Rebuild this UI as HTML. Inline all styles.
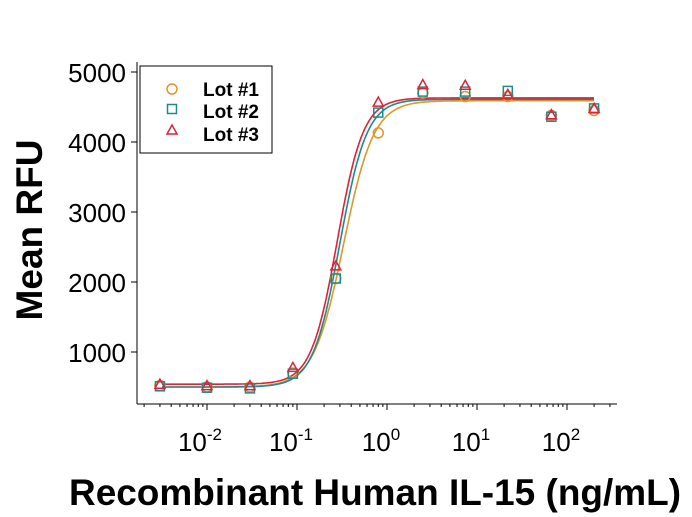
<!DOCTYPE html>
<html><head><style>body{margin:0;background:#fff}svg{display:block}text{font-family:"Liberation Sans",Arial,sans-serif}</style></head>
<body>
<svg id="s" width="692" height="517" viewBox="0 0 692 517" xmlns="http://www.w3.org/2000/svg">
<rect width="692" height="517" fill="#fff"/>
<g stroke="#000" stroke-width="1" fill="none">
<line x1="137" y1="62" x2="137" y2="404"/>
<line x1="137" y1="404" x2="617" y2="404"/>
<line x1="131" y1="72" x2="137" y2="72"/><line x1="131" y1="142" x2="137" y2="142"/>
<line x1="131" y1="212" x2="137" y2="212"/><line x1="131" y1="282" x2="137" y2="282"/>
<line x1="131" y1="352" x2="137" y2="352"/>
<g id="xt"></g>
</g>
<g font-size="26" text-anchor="end">
<text x="126" y="82">5000</text><text x="126" y="152">4000</text><text x="126" y="222">3000</text><text x="126" y="292">2000</text><text x="126" y="362">1000</text>
</g>
<g font-size="26" text-anchor="middle">
<text x="200" y="451">10<tspan dy="-11" font-size="17">-2</tspan></text>
<text x="291" y="451">10<tspan dy="-11" font-size="17">-1</tspan></text>
<text x="381" y="451">10<tspan dy="-11" font-size="17">0</tspan></text>
<text x="471" y="451">10<tspan dy="-11" font-size="17">1</tspan></text>
<text x="561" y="451">10<tspan dy="-11" font-size="17">2</tspan></text>
</g>
<text x="375" y="505" font-size="37" font-weight="bold" text-anchor="middle" textLength="612" lengthAdjust="spacingAndGlyphs">Recombinant Human IL-15 (ng/mL)</text>
<text transform="translate(42,230) rotate(-90)" font-size="37" font-weight="bold" text-anchor="middle">Mean RFU</text>
<g id="plot"></g>
<rect x="140" y="66" width="132" height="87" fill="#fff" stroke="#000" stroke-width="1"/>
<circle cx="172" cy="89" r="5" fill="none" stroke="#e0962a" stroke-width="1.5"/>
<rect x="167.5" y="104.5" width="9" height="9" fill="none" stroke="#1f8a8a" stroke-width="1.5"/>
<polygon points="172,125 177,134 167,134" fill="none" stroke="#e0213a" stroke-width="1.5"/>
<g font-size="19" font-weight="bold"><text x="203" y="96">Lot #1</text><text x="203" y="118">Lot #2</text><text x="203" y="141">Lot #3</text></g>
</svg>
<script>
const X=v=>387+90*Math.log10(v),Y=v=>352-(v-1000)*0.07;
let t='';for(let d=-3;d<=2;d++)for(let m=1;m<10;m++){const v=m*Math.pow(10,d);const x=X(v);if(x<137||x>617)continue;t+=`<line x1="${x}" y1="404" x2="${x}" y2="${m==1?410:407}"/>`;}
document.getElementById('xt').innerHTML=t;
const xs=[0.003,0.01,0.03,0.09,0.27,0.8,2.5,7.4,22,67,200];
const lots=[
{c:'#e0962a',b:500,t:4590,e:0.33,h:2.6,d:[520,500,500,700,2050,4130,4700,4650,4650,4380,4450],m:'o'},
{c:'#1f8a8a',b:500,t:4610,e:0.30,h:2.9,d:[510,490,480,690,2050,4420,4720,4720,4730,4360,4480],m:'s'},
{c:'#e0213a',b:540,t:4630,e:0.28,h:3.0,d:[540,520,520,780,2230,4570,4820,4810,4680,4390,4480],m:'t'}];
let p='';
for(const L of lots){let s='';for(let i=0;i<=200;i++){const lv=-2.5+i*(4.8/200),v=Math.pow(10,lv);const y=L.b+(L.t-L.b)/(1+Math.pow(L.e/v,L.h));s+=(i?'L':'M')+X(v).toFixed(1)+' '+Y(y).toFixed(1);}
p+=`<path d="${s}" fill="none" stroke="${L.c}" stroke-width="1.6"/>`;}
for(const L of lots){xs.forEach((v,i)=>{const x=X(v),y=Y(L.d[i]);
if(L.m=='o')p+=`<circle cx="${x}" cy="${y}" r="5" fill="none" stroke="${L.c}" stroke-width="1.5"/>`;
else if(L.m=='s')p+=`<rect x="${x-4.5}" y="${y-4.5}" width="9" height="9" fill="none" stroke="${L.c}" stroke-width="1.5"/>`;
else p+=`<polygon points="${x},${y-5} ${x+5},${y+4} ${x-5},${y+4}" fill="none" stroke="${L.c}" stroke-width="1.5"/>`;});}
document.getElementById('plot').innerHTML=p;
</script>
</body></html>
